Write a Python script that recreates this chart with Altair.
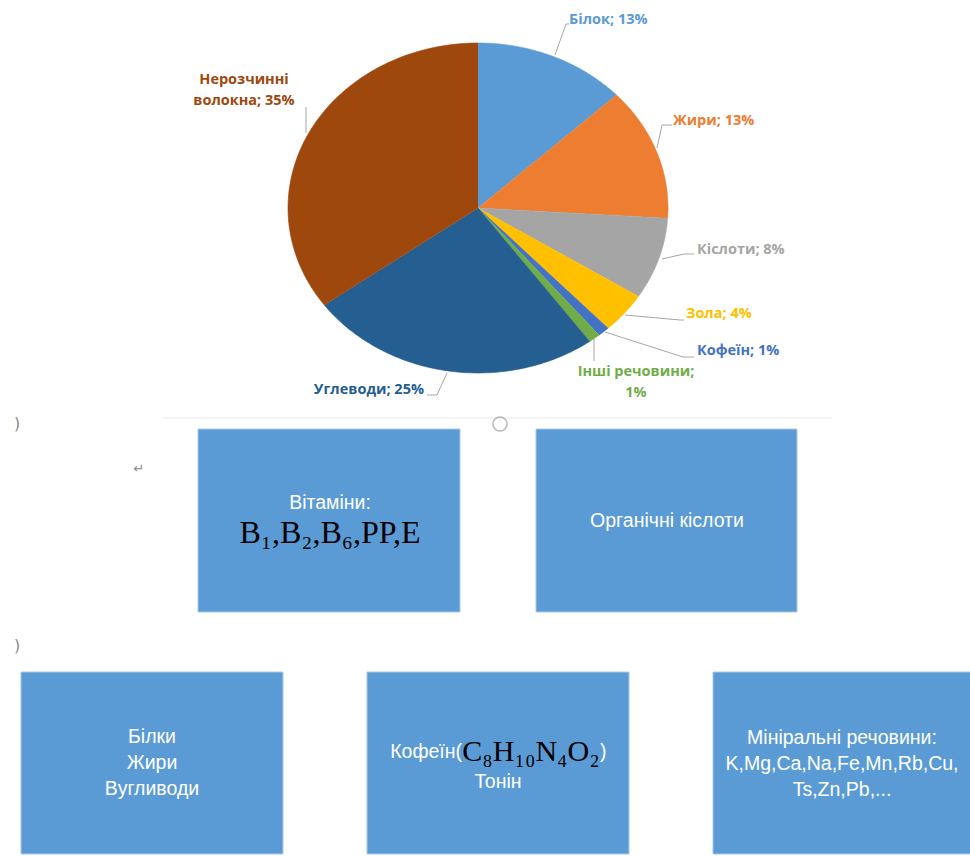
import altair as alt
import pandas as pd

W, H = 970, 857

# ---------------- data ----------------
categories = ["Білок", "Жири", "Кіслоти", "Зола", "Кофеїн", "Інші речовини", "Углеводи", "Нерозчинні волокна"]
shares = [13, 13, 8, 4, 1, 1, 25, 35]
colors = ["#5B9BD5", "#ED7D31", "#A5A5A5", "#FFC000", "#4472C4", "#70AD47", "#255E91", "#9E480E"]

box_vitamins = ["Вітаміни:"]
formula_vitamins = "B₁,B₂,B₆,PP,E"
box_acids = ["Органічні кіслоти"]
box_macro = ["Білки", "Жири", "Вугливоди"]
caffeine_prefix = "Кофеїн("
caffeine_formula = "C₈H₁₀N₄O₂"
caffeine_suffix = ")"
caffeine_second = ["Тонін"]
box_minerals = ["Мініральні речовини:", "K,Mg,Ca,Na,Fe,Mn,Rb,Cu,", "Ts,Zn,Pb,..."]

# ---------------- layout (pixels) ----------------
CX, CY, RX, RY = 478, 208, 190, 165

xs = alt.Scale(domain=[0, W], nice=False, zero=False)
ys = alt.Scale(domain=[0, H], nice=False, zero=False, reverse=True)


def X(f):
    return alt.X(f, type="quantitative", scale=xs, axis=None)


def Y(f):
    return alt.Y(f, type="quantitative", scale=ys, axis=None)


# pie slices as filled polygons (ellipse, as in the stretched reference)
pie_df = pd.DataFrame({"category": categories, "share": shares, "color": colors,
                       "ord": list(range(len(categories)))})
pie = alt.Chart(pie_df).transform_window(
    cum="sum(share)", sort=[alt.SortField("ord")], frame=[None, 0]
).transform_calculate(
    start="datum.cum - datum.share",
    steps="sequence(-1, 81)"
).transform_flatten(["steps"], as_=["step"]).transform_calculate(
    ang="2*PI*(datum.start + datum.share*max(datum.step,0)/80)/100"
).transform_calculate(
    px=f"datum.step < 0 ? {CX} : {CX} + {RX}*sin(datum.ang)",
    py=f"datum.step < 0 ? {CY} : {CY} - {RY}*cos(datum.ang)"
).mark_line(filled=True, strokeWidth=0.6, strokeJoin="round").encode(
    x=X("px"), y=Y("py"),
    detail="category:N",
    order="step:Q",
    color=alt.Color("color:N", scale=None),
    stroke=alt.Stroke("color:N", scale=None),
)

# data labels
def wrap(cat, s):
    if cat == "Інші речовини":
        return [f"{cat};", f"{s}%"]
    if cat == "Нерозчинні волокна":
        return ["Нерозчинні", f"волокна; {s}%"]
    return [f"{cat}; {s}%"]

label_anchor = {
    "Білок": (569, 20, "left"),
    "Жири": (673, 121, "left"),
    "Кіслоти": (697, 250, "left"),
    "Зола": (686, 314, "left"),
    "Кофеїн": (697, 351, "left"),
    "Інші речовини": (636, 372, "center"),
    "Углеводи": (424, 390, "right"),
    "Нерозчинні волокна": (244, 80, "center"),
}
rows = []
for cat, s, col in zip(categories, shares, colors):
    x0, y0, al = label_anchor[cat]
    for k, line in enumerate(wrap(cat, s)):
        rows.append({"t": line, "x": x0, "y": y0 + 21 * k, "al": al, "c": col})
lab_df = pd.DataFrame(rows)
labels = []
for al in ["left", "center", "right"]:
    sub = lab_df[lab_df.al == al]
    labels.append(alt.Chart(sub).mark_text(
        align=al, baseline="middle", font="Open Sans", fontWeight="bold", fontSize=14.5
    ).encode(x=X("x"), y=Y("y"), text="t:N", color=alt.Color("c:N", scale=None)))

leaders = {
    "Білок": [(569, 24), (566, 24), (555, 55)],
    "Жири": [(672, 125), (662, 125), (657, 148)],
    "Кіслоти": [(662, 259), (684, 254), (694, 254)],
    "Зола": [(625, 315), (680, 320), (684, 320)],
    "Кофеїн": [(605, 332), (683, 357), (694, 357)],
    "Інші речовини": [(594, 339), (594, 361)],
    "Углеводи": [(447, 373), (437, 395), (427, 395)],
    "Нерозчинні волокна": [(306, 107), (306, 133)],
}
lrows = []
for cat, pts in leaders.items():
    for i, (px, py) in enumerate(pts):
        lrows.append({"cat": cat, "i": i, "x": px, "y": py})
leader = alt.Chart(pd.DataFrame(lrows)).mark_line(color="#A6A6A6", strokeWidth=1).encode(
    x=X("x"), y=Y("y"), detail="cat:N", order="i:Q")

# separator and editor marks
sep = alt.Chart(pd.DataFrame({"x": [163], "x2": [832], "y": [418]})).mark_rule(
    color="#ebebeb", strokeWidth=1).encode(x=X("x"), x2="x2:Q", y=Y("y"))
circ = alt.Chart(pd.DataFrame({"x": [500], "y": [424]})).mark_point(
    shape="circle", size=200, color="#9a9a9a", strokeWidth=1.5, filled=False).encode(x=X("x"), y=Y("y"))
marks_df = pd.DataFrame({"t": [")", ")", "↵"], "x": [17, 17, 139], "y": [424, 646, 469],
                         "s": [16, 16, 13]})
edit_marks = alt.Chart(marks_df).mark_text(color="#8a8a8a", font="DejaVu Sans").encode(
    x=X("x"), y=Y("y"), text="t:N", size=alt.Size("s:Q", scale=None))

# boxes
box_df = pd.DataFrame({"x0": [198, 536, 21, 367, 713], "x1": [460, 797, 283, 629, 972],
                       "y0": [429, 429, 672, 672, 672], "y1": [612, 612, 854, 854, 854]})
boxes = alt.Chart(box_df).mark_rect(color="#5B9BD5", stroke="#A9C8EA", strokeWidth=1).encode(
    x=X("x0"), x2="x1:Q", y=Y("y0"), y2="y1:Q")

wt = []
def add_lines(lines, x, y0, step=26, al="center"):
    for k, l in enumerate(lines):
        wt.append({"t": l, "x": x, "y": y0 + step * k, "al": al})

add_lines(box_vitamins, 330, 503)
add_lines(box_acids, 667, 521)
add_lines(box_macro, 152, 737)
add_lines([caffeine_prefix], 462, 752, al="right")
add_lines([caffeine_suffix], 600, 752, al="left")
add_lines(caffeine_second, 498, 782)
add_lines(box_minerals, 842, 738)
wt_df = pd.DataFrame(wt)
white_texts = []
for al in ["left", "center", "right"]:
    sub = wt_df[wt_df.al == al]
    white_texts.append(alt.Chart(sub).mark_text(
        align=al, baseline="middle", font="Liberation Sans", fontSize=19.5, color="white"
    ).encode(x=X("x"), y=Y("y"), text="t:N"))

ser_df = pd.DataFrame({"t": [formula_vitamins, caffeine_formula], "x": [330, 531], "y": [533, 752],
                       "s": [32, 30]})
serif = alt.Chart(ser_df).mark_text(
    align="center", baseline="middle", font="Liberation Serif", color="black"
).encode(x=X("x"), y=Y("y"), text="t:N", size=alt.Size("s:Q", scale=None))

chart = alt.layer(
    sep, pie, leader, *labels, circ, edit_marks, boxes, *white_texts, serif
).properties(
    width=W, height=H, padding=0, autosize=alt.AutoSizeParams(type="none"), background="white"
).configure_view(stroke=None)

chart.save("out.html", embed_options={"renderer": "svg", "actions": False})
